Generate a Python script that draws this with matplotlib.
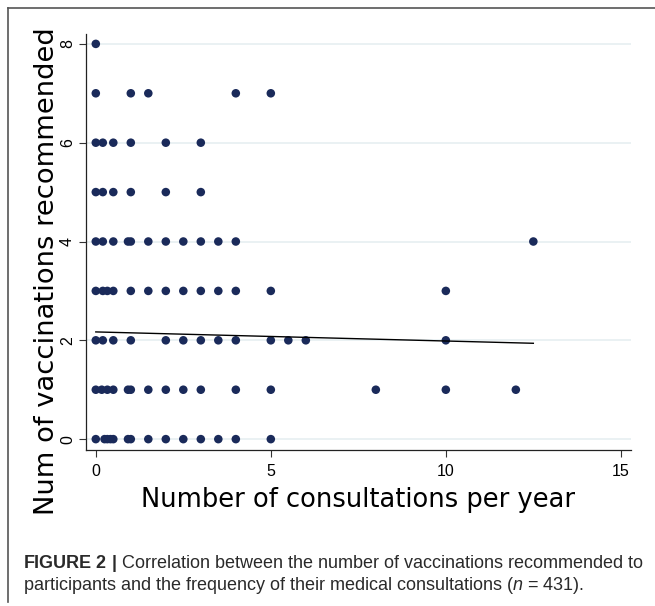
import numpy as np
import matplotlib
matplotlib.use("Agg")
import matplotlib.pyplot as plt
from matplotlib import font_manager
from matplotlib.lines import Line2D

# consultations per year for each number of recommended vaccinations
x_v0 = [0, 0.25, 0.33, 0.42, 0.5, 0.92, 1, 1.5, 2, 2.5, 3, 3.5, 4, 5]
x_v1 = [0, 0.17, 0.33, 0.5, 0.92, 1, 1.5, 2, 2.5, 3, 4, 5, 8, 10, 12]
x_v2 = [0, 0.2, 0.5, 1, 2, 2.5, 3, 3.5, 4, 5, 5.5, 6, 10]
x_v3 = [0, 0.2, 0.33, 0.5, 1, 1.5, 2, 2.5, 3, 3.5, 4, 5, 10]
x_v4 = [0, 0.2, 0.5, 0.92, 1, 1.5, 2, 2.5, 3, 3.5, 4, 12.5]
x_v5 = [0, 0.2, 0.5, 1, 2, 3]
x_v6 = [0, 0.2, 0.5, 1, 2, 3]
x_v7 = [0, 1, 1.5, 4, 5]
x_v8 = [0]
rows = [x_v0, x_v1, x_v2, x_v3, x_v4, x_v5, x_v6, x_v7, x_v8]

consultations = np.concatenate(rows)
vaccinations = np.concatenate([[k] * len(r) for k, r in enumerate(rows)])

# fitted line (linear fit over all participants)
fit_x = [0, 12.5]
fit_y = [2.17, 1.94]

y_ticks = [0, 2, 4, 6, 8]
x_ticks = [0, 5, 10, 15]

navy = "#1a2a5a"

fig = plt.figure(figsize=(6.55, 6.06), dpi=100)
ax = fig.add_axes([86 / 655, 1 - 450 / 606, 545 / 655, 416 / 606])

for yv in y_ticks:
    ax.axhline(yv, color="#e6eff1", lw=1.2, zorder=0)

ax.scatter(consultations, vaccinations, s=38, color=navy, edgecolors="none", zorder=2)
ax.plot(fit_x, fit_y, color="black", lw=1.0, zorder=3)

ax.set_xlim(-0.28, 15.29)
ax.set_ylim(-0.22, 8.2)
ax.set_xticks(x_ticks)
ax.set_yticks(y_ticks)
ax.set_xticklabels([str(t) for t in x_ticks], fontfamily="Liberation Sans", fontsize=11.5)
ax.set_yticklabels([str(t) for t in y_ticks], fontfamily="Liberation Sans", fontsize=11.5,
                   rotation=90, va="center")
ax.tick_params(axis="both", direction="out", length=5, width=0.8, color="#333333")
ax.tick_params(axis="y", pad=3)
ax.tick_params(axis="x", pad=5)

for side in ["top", "right"]:
    ax.spines[side].set_visible(False)
for side in ["left", "bottom"]:
    ax.spines[side].set_linewidth(0.9)
    ax.spines[side].set_color("#222222")

ax.set_xlabel("Number of consultations per year", fontfamily="DejaVu Sans", fontsize=18.5,
              labelpad=6)
ax.set_ylabel("Num of vaccinations recommended", fontfamily="DejaVu Sans", fontsize=19.7)
ax.yaxis.set_label_coords(-0.048, 0.43)

# frame around the figure panel
fig.add_artist(Line2D([8 / 655, 1], [1 - 8 / 606, 1 - 8 / 606], color="#555555", lw=1.2))
fig.add_artist(Line2D([8 / 655, 8 / 655], [1 - 602 / 606, 1 - 8 / 606], color="#555555", lw=1.2))

# caption
names = {f.name for f in font_manager.fontManager.ttflist}
cap_font = "Liberation Sans Narrow" if "Liberation Sans Narrow" in names else "Liberation Sans"
cap_size = 15.5 if cap_font == "Liberation Sans Narrow" else 13.0
plt.rcParams["mathtext.fontset"] = "custom"
plt.rcParams["mathtext.rm"] = cap_font
plt.rcParams["mathtext.it"] = cap_font + ":italic"
plt.rcParams["mathtext.bf"] = cap_font + ":bold"

fig.text(23 / 655, 1 - 563 / 606,
         r"$\mathbf{FIGURE\ 2\ |}$ Correlation between the number of vaccinations recommended to",
         fontfamily=cap_font, fontsize=cap_size, color="#2a2a2a", va="center")
fig.text(23 / 655, 1 - 585 / 606,
         r"participants and the frequency of their medical consultations ($n$ = 431).",
         fontfamily=cap_font, fontsize=cap_size, color="#2a2a2a", va="center")

fig.savefig("out.png", dpi=100)
